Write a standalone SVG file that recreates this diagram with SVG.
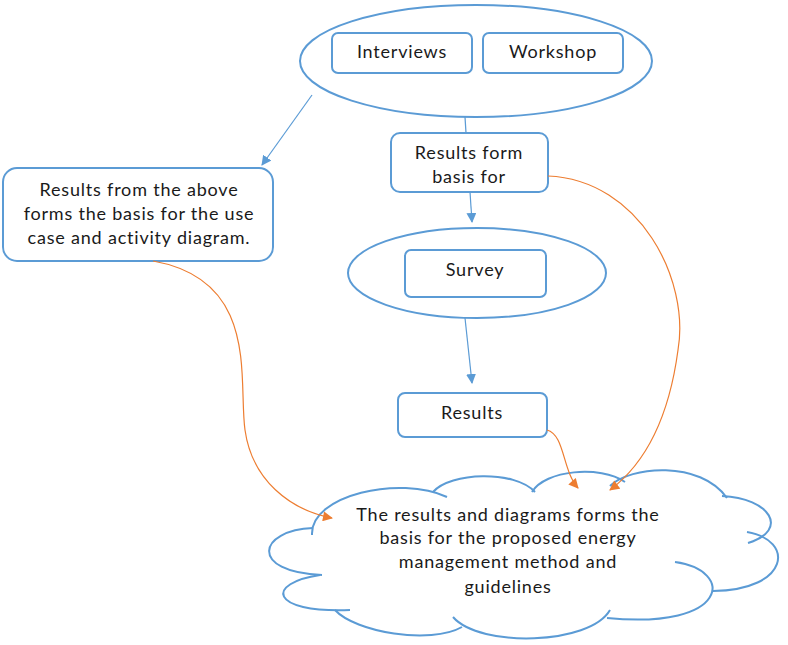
<svg xmlns="http://www.w3.org/2000/svg" width="788" height="645" viewBox="0 0 788 645">
<defs>
<marker id="ab" viewBox="0 0 10 10" refX="9" refY="5" markerWidth="10" markerHeight="10" markerUnits="userSpaceOnUse" orient="auto"><path d="M0,0 L10,5 L0,10 z" fill="#5B9BD5"/></marker>
<marker id="ao" viewBox="0 0 10 10" refX="9" refY="5" markerWidth="11" markerHeight="10" markerUnits="userSpaceOnUse" orient="auto"><path d="M0,0 L10,5 L0,10 z" fill="#ED7D31"/></marker>
<style>
.s{fill:#fff;stroke:#5B9BD5;stroke-width:2}
.c{fill:none;stroke:#5B9BD5;stroke-width:2}
.t{font-family:Lato,"Liberation Sans",sans-serif;font-size:18px;letter-spacing:0.8px;fill:#1a1a1a;text-anchor:middle}
.bl{fill:none;stroke:#5B9BD5;stroke-width:1.2}
.or{fill:none;stroke:#ED7D31;stroke-width:1.2}
</style>
</defs>
<rect width="788" height="645" fill="#fff"/>
<g id="top-group">
<ellipse class="s" cx="476" cy="61" rx="176" ry="56"/>
</g>
<g id="interviews"><rect class="s" x="332" y="33" width="140" height="40" rx="6"/><text class="t" x="402" y="58">Interviews</text></g>
<g id="workshop"><rect class="s" x="483" y="33" width="140" height="40" rx="6"/><text class="t" x="553" y="58">Workshop</text></g>
<g id="results-form"><rect class="s" x="391" y="133" width="157" height="59" rx="9"/><text class="t" x="469" y="159">Results form</text><text class="t" x="469" y="183">basis for</text></g>
<g id="left-box"><rect class="s" x="3" y="168" width="270" height="93" rx="14"/><text class="t" x="139" y="196">Results from the above</text><text class="t" x="139" y="220">forms the basis for the use</text><text class="t" x="139" y="244">case and activity diagram.</text></g>
<g id="survey-group"><ellipse class="s" cx="477" cy="273" rx="129" ry="45"/></g>
<g id="survey"><rect class="s" x="405" y="250" width="141" height="47" rx="6"/><text class="t" x="475" y="276">Survey</text></g>
<g id="results"><rect class="s" x="398" y="393" width="149" height="44" rx="7"/><text class="t" x="472" y="419">Results</text></g>
<g id="cloud">
<path class="c" d="M312,535 C310,495 400,475 447,497"/>
<path class="c" d="M433,492 C450,472 515,470 535,492"/>
<path class="c" d="M532,492 C545,470 600,465 625,482"/>
<path class="c" d="M610,486 C630,466 700,460 727,498"/>
<path class="c" d="M722,496 C770,498 790,530 748,543"/>
<path class="c" d="M747,532 C795,540 790,590 713,591"/>
<path class="c" d="M675,562 C735,570 730,630 607,618"/>
<path class="c" d="M610,610 C590,645 480,648 453,617"/>
<path class="c" d="M462,627 C430,645 355,632 335,610"/>
<path class="c" d="M350,610 C268,613 266,583 320,575"/>
<path class="c" d="M322,575 C248,572 258,530 313,528"/>
<text class="t" x="508" y="521">The results and diagrams forms the</text>
<text class="t" x="508" y="544">basis for the proposed energy</text>
<text class="t" x="508" y="568">management method and</text>
<text class="t" x="508" y="593">guidelines</text>
</g>
<g id="connectors">
<path class="bl" d="M312,95 L262,165" marker-end="url(#ab)"/>
<path class="bl" d="M465,117 L466,133"/>
<path class="bl" d="M470,192 L472,222" marker-end="url(#ab)"/>
<path class="bl" d="M465,318 L472,383" marker-end="url(#ab)"/>
<path class="or" d="M153,261 C260,280 238,380 245,430 C252,480 290,510 332,518" marker-end="url(#ao)"/>
<path class="or" d="M548,176 C640,180 690,280 678,350 C670,410 650,460 610,490" marker-end="url(#ao)"/>
<path class="or" d="M547,430 C565,435 562,470 578,488" marker-end="url(#ao)"/>
</g>
</svg>
